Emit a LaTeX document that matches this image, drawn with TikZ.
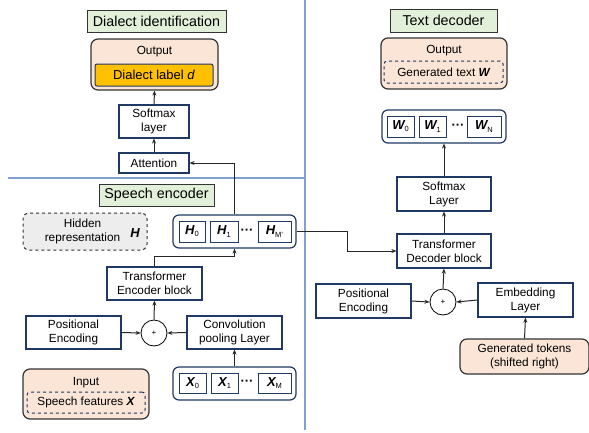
\documentclass[tikz,border=0pt]{standalone}
\usepackage{fontspec}
\setmainfont{Liberation Sans}
\usepackage{tikz}
\usetikzlibrary{arrows.meta}

\definecolor{navy}{HTML}{203864}
\definecolor{titlegreen}{HTML}{E2F0D9}
\definecolor{peach}{HTML}{FBE5D6}
\definecolor{amber}{HTML}{FFC000}
\definecolor{lightgray}{HTML}{EDEDED}
\definecolor{divider}{HTML}{7F9FD6}

\newcommand{\vecsym}[2]{{\bfseries\itshape #1}\raisebox{-0.3ex}{\fontsize{7.5}{7.5}\selectfont #2}}
\newcommand{\tokdots}{{\bfseries\fontsize{13}{13}\selectfont\textperiodcentered\textperiodcentered\textperiodcentered}}

\begin{document}
\begin{tikzpicture}[x=1pt,y=-1pt,
    font=\fontsize{11.8}{14}\selectfont,
    >={Stealth[length=5pt,width=4pt]},
    layer/.style={draw=navy,line width=1.2pt,fill=white,align=center,inner sep=1pt},
    heading/.style={draw=black!80,line width=1pt,fill=titlegreen,inner sep=1pt,font=\fontsize{14.3}{16}\selectfont},
    outbox/.style={draw=black!80,line width=1.2pt,fill=peach,rounded corners=7pt},
    seqbox/.style={draw=navy,line width=1.2pt,fill=white,rounded corners=6pt},
    tok/.style={draw=navy,line width=1pt,fill=white,inner sep=0pt,minimum height=21,font=\fontsize{13}{14}\selectfont},
    sumnode/.style={draw,circle,line width=0.8pt,minimum size=26,inner sep=0pt,font=\fontsize{8}{8}\selectfont},
    arr/.style={->,line width=1pt,black!85}]
    \useasboundingbox (0,0) rectangle (589,432);
    % dividers
    \draw [divider,line width=1.2pt] (305,0) -- (305,430);
    \draw [divider,line width=1.2pt] (8,178) -- (305,178);

    % dialect identification
    \node [heading,minimum width=139,minimum height=22] (dialtitle) at (156.5,21) {Dialect identification};
    \node [outbox,minimum width=127,minimum height=51] (dialout) at (154.5,64.5) {};
    \node (dialouttext) at (154.5,52) {Output};
    \node [draw=navy,line width=1pt,fill=amber,rounded corners=2pt,minimum width=118,minimum height=22,font=\fontsize{13}{14}\selectfont] (diallabel) at (154,75) {Dialect label \textit{d}};
    \node [layer,minimum width=70,minimum height=33] (dialsoft) at (154,121.5) {Softmax\\layer};
    \node [layer,minimum width=70,minimum height=20] (attn) at (154,163) {Attention};

    % speech encoder
    \node [heading,minimum width=115,minimum height=22] (enctitle) at (156.5,195) {Speech encoder};
    \node [draw=black!80,line width=1pt,dashed,fill=lightgray,rounded corners=6pt,minimum width=124,minimum height=37] (hidden) at (85,231.5) {};
    \node [align=center] (hiddentext) at (82.5,231.5) {Hidden\\representation};
    \node [font=\fontsize{13}{14}\selectfont] (hiddensym) at (135,233) {\bfseries\itshape H};
    \node [seqbox,minimum width=123,minimum height=33] (hseq) at (234.5,231.5) {};
    \node [tok,minimum width=26] (h0) at (192,231.5) {\vecsym{H}{0}};
    \node [tok,minimum width=28] (h1) at (224,231.5) {\vecsym{H}{1}};
    \node (hdots) at (247,231.5) {\tokdots};
    \node [tok,minimum width=33] (hm) at (274.5,231.5) {\vecsym{H}{M'}};
    \node [layer,minimum width=95,minimum height=33] (encblock) at (154.5,283.5) {Transformer\\Encoder block};
    \node [sumnode] (encsum) at (154,333) {+};
    \node [layer,minimum width=95,minimum height=33] (encpos) at (73.5,332.5) {Positional\\Encoding};
    \node [layer,minimum width=95,minimum height=33] (conv) at (234.5,332.5) {Convolution\\pooling Layer};
    \node [seqbox,minimum width=123,minimum height=33] (xseq) at (234.5,383.5) {};
    \node [tok,minimum width=27,minimum height=20] (x0) at (192.5,383) {\vecsym{X}{0}};
    \node [tok,minimum width=27,minimum height=20] (x1) at (224.5,383) {\vecsym{X}{1}};
    \node (xdots) at (247,383) {\tokdots};
    \node [tok,minimum width=33,minimum height=20] (xm) at (274.5,383) {\vecsym{X}{M}};
    \node [outbox,minimum width=126,minimum height=50] (input) at (86,394) {};
    \node (inputtext) at (86,383) {Input};
    \node [draw=navy,line width=1pt,dashed,rounded corners=3pt,minimum width=118,minimum height=21] (features) at (86,402.5) {Speech features {\bfseries\itshape X}};

    % text decoder
    \node [heading,minimum width=107,minimum height=23] (dectitle) at (443.5,20.5) {Text decoder};
    \node [outbox,minimum width=126,minimum height=51] (decout) at (444,63.5) {};
    \node (decouttext) at (444,51) {Output};
    \node [draw=navy,line width=1pt,dashed,rounded corners=3pt,minimum width=119,minimum height=22] (gentext) at (443.5,72) {Generated text {\bfseries\itshape W}};
    \node [seqbox,minimum width=124,minimum height=33] (wseq) at (444,126.5) {};
    \node [tok,minimum width=27] (w0) at (400.5,126.5) {\vecsym{W}{0}};
    \node [tok,minimum width=27] (w1) at (432.5,126.5) {\vecsym{W}{1}};
    \node (wdots) at (458,126.5) {\tokdots};
    \node [tok,minimum width=34] (wn) at (484,126.5) {\vecsym{W}{N}};
    \node [layer,minimum width=94,minimum height=34] (decsoft) at (444,194) {Softmax\\Layer};
    \node [layer,minimum width=94,minimum height=34] (decblock) at (444,251) {Transformer\\Decoder block};
    \node [sumnode] (decsum) at (443,302) {+};
    \node [layer,minimum width=95,minimum height=34] (decpos) at (363.5,301) {Positional\\Encoding};
    \node [layer,minimum width=95,minimum height=34] (embed) at (525.5,300) {Embedding\\Layer};
    \node [outbox,align=center,minimum width=129,minimum height=35] (gentok) at (524.5,356.5) {Generated tokens\\(shifted right)};

    % connectors, encoder side
    \draw [arr] (xseq.north) -- (conv.south);
    \draw [arr] (conv.west) -- (encsum.east);
    \draw [arr] (encpos.east) -- (encsum.west);
    \draw [arr] (encsum.north) -- (encblock.south);
    \draw [arr] (encblock.north) -- ++(0,-10) -| (hseq.south);
    \draw [arr] (hseq.north) |- (attn.east);
    \draw [arr] (attn.north) -- (dialsoft.south);
    \draw [arr] (dialsoft.north) -- (dialout.south);
    % connectors, decoder side
    \draw [arr] (hseq.east) -- ++(51,0) |- (decblock.west);
    \draw [arr] (gentok.north) -- (embed.south);
    \draw [arr] (embed.west) -- (decsum.east);
    \draw [arr] (decpos.east) -- (decsum.west);
    \draw [arr] (decsum.north) -- (decblock.south);
    \draw [arr] (decblock.north) -- (decsoft.south);
    \draw [arr] (decsoft.north) -- (wseq.south);
\end{tikzpicture}
\end{document}
